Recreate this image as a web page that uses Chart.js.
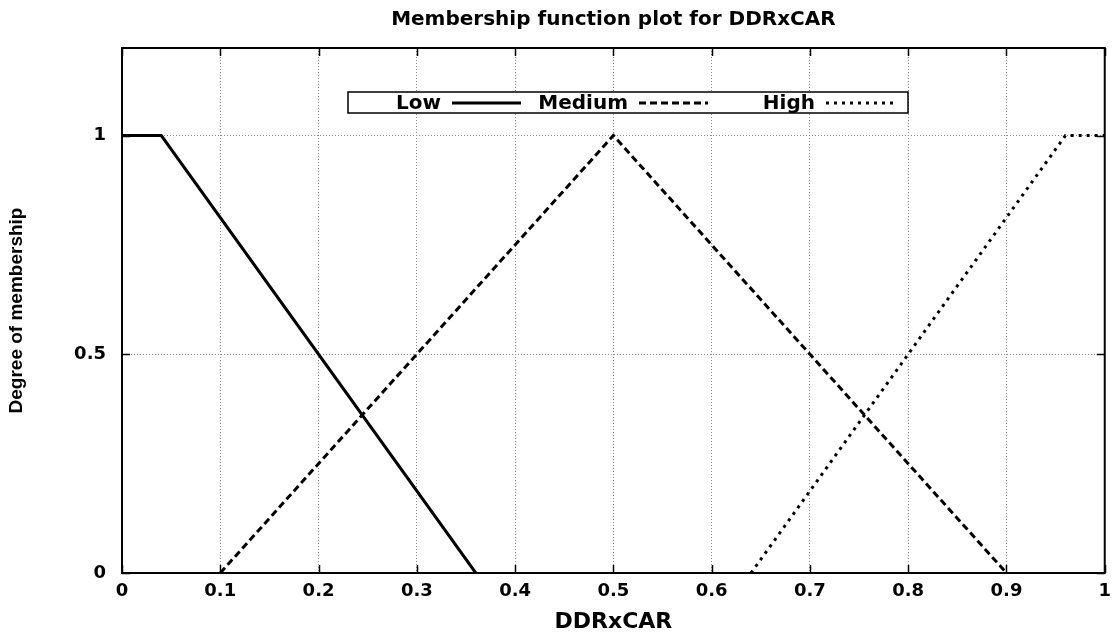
<!DOCTYPE html>
<html><head><meta charset="utf-8">
<script src="https://cdn.jsdelivr.net/npm/chart.js@4.4.1/dist/chart.umd.min.js"></script>
<style>html,body{margin:0;padding:0;background:#fff}#wrap{width:1119px;height:634px}</style>
</head><body><div id="wrap"><canvas id="c" width="1119" height="634"></canvas></div>
<script>
// ---- data ----
const seriesNames = ['Low', 'Medium', 'High'];
const lowX = [0, 0.04, 0.36];
const lowY = [1, 1, 0];
const mediumX = [0.1, 0.5, 0.9];
const mediumY = [0, 1, 0];
const highX = [0.64, 0.96, 1];
const highY = [0, 1, 1];
const xTickValues = [0, 0.1, 0.2, 0.3, 0.4, 0.5, 0.6, 0.7, 0.8, 0.9, 1];
const xTickLabels = ['0', '0.1', '0.2', '0.3', '0.4', '0.5', '0.6', '0.7', '0.8', '0.9', '1'];
const yTickValues = [0, 0.5, 1];
const yTickLabels = ['0', '0.5', '1'];
const chartTitle = 'Membership function plot for DDRxCAR';
const xTitle = 'DDRxCAR';
const yTitle = 'Degree of membership';

const toPts = (xs, ys) => xs.map((x, i) => ({x: x, y: ys[i]}));
const BOLD = 'DejaVu Sans';

const centerTitle = {
  id: 'centerTitle',
  afterLayout(chart) {
    const t = chart.titleBlock, a = chart.chartArea;
    if (t && a) { t.left = a.left; t.right = a.right; t.width = a.right - a.left; }
  }
};

const frameTicks = {
  id: 'frameTicks',
  afterDatasetsDraw(chart) {
    const {ctx, chartArea: a, scales: {x, y}} = chart;
    ctx.save();
    ctx.strokeStyle = '#000';
    ctx.setLineDash([]);
    ctx.lineWidth = 1.5;
    const L = 8;
    ctx.beginPath();
    xTickValues.forEach(v => {
      const px = Math.round(x.getPixelForValue(v)) + 0.5;
      ctx.moveTo(px, a.bottom); ctx.lineTo(px, a.bottom - L);
      ctx.moveTo(px, a.top); ctx.lineTo(px, a.top + L);
    });
    yTickValues.forEach(v => {
      const py = Math.round(y.getPixelForValue(v)) + 0.5;
      ctx.moveTo(a.left, py); ctx.lineTo(a.left + L, py);
      ctx.moveTo(a.right, py); ctx.lineTo(a.right - L, py);
    });
    ctx.stroke();
    ctx.lineWidth = 2;
    ctx.strokeRect(a.left, a.top, a.right - a.left, a.bottom - a.top);
    ctx.restore();
  }
};

const boxedLegend = {
  id: 'boxedLegend',
  afterDraw(chart) {
    const {ctx} = chart;
    const bx = 348, by = 92, bw = 560, bh = 21;
    ctx.save();
    ctx.fillStyle = '#fff';
    ctx.fillRect(bx, by, bw, bh);
    ctx.strokeStyle = '#000';
    ctx.lineWidth = 1.5;
    ctx.setLineDash([]);
    ctx.strokeRect(bx, by, bw, bh);
    const lineStarts = [452, 639, 826];
    const sampleLen = 69;
    const cy = by + bh / 2 + 0.5;
    ctx.font = 'bold 20px "' + BOLD + '"';
    ctx.textAlign = 'right';
    ctx.textBaseline = 'middle';
    ctx.fillStyle = '#000';
    chart.data.datasets.forEach((ds, i) => {
      const s = lineStarts[i];
      ctx.fillText(ds.label, s - 11, cy + 1);
      ctx.beginPath();
      ctx.lineWidth = ds.borderWidth;
      ctx.setLineDash(ds.borderDash || []);
      ctx.moveTo(s, cy); ctx.lineTo(s + sampleLen, cy);
      ctx.stroke();
    });
    ctx.restore();
  }
};

const common = {borderColor: '#000', backgroundColor: '#000', borderWidth: 3, pointRadius: 0, fill: false, tension: 0, borderCapStyle: 'butt', borderJoinStyle: 'miter'};

new Chart(document.getElementById('c'), {
  type: 'line',
  data: {
    datasets: [
      Object.assign({label: seriesNames[0], data: toPts(lowX, lowY), borderDash: []}, common),
      Object.assign({label: seriesNames[1], data: toPts(mediumX, mediumY), borderDash: [7, 4]}, common),
      Object.assign({label: seriesNames[2], data: toPts(highX, highY), borderDash: [3, 5]}, common)
    ]
  },
  options: {
    responsive: false,
    animation: false,
    devicePixelRatio: 1,
    layout: {padding: {left: 0, right: 11, top: 0, bottom: 0}},
    plugins: {
      legend: {display: false},
      tooltip: {enabled: false},
      title: {
        display: true, text: chartTitle, color: '#000',
        font: {family: BOLD, weight: 'bold', size: 20, lineHeight: 1.2},
        padding: {top: 8, bottom: 16}
      }
    },
    scales: {
      x: {
        type: 'linear', min: 0, max: 1,
        afterBuildTicks: s => { s.ticks = xTickValues.map(v => ({value: v})); },
        afterFit: s => { s.height = 61; },
        ticks: {
          color: '#000', padding: 8, autoSkip: false, maxRotation: 0,
          font: {family: BOLD, weight: 'bold', size: 18},
          callback: (v, i) => xTickLabels[i]
        },
        grid: {color: '#888', lineWidth: 1, drawTicks: false},
        border: {display: false, dash: [1, 2]},
        title: {
          display: true, text: xTitle, color: '#000',
          font: {family: BOLD, weight: 'bold', size: 22, lineHeight: 1},
          padding: {top: 0, bottom: 1}
        }
      },
      y: {
        type: 'linear', min: 0, max: 1.2,
        afterBuildTicks: s => { s.ticks = yTickValues.map(v => ({value: v})); },
        afterFit: s => { s.width = 122; },
        ticks: {
          color: '#000', padding: 16,
          font: {family: BOLD, weight: 'bold', size: 18},
          callback: (v, i) => yTickLabels[i]
        },
        grid: {color: '#888', lineWidth: 1, drawTicks: false},
        border: {display: false, dash: [1, 2]},
        title: {
          display: true, text: yTitle, color: '#000',
          font: {family: 'Liberation Sans', weight: 'bold', size: 19, lineHeight: 1.2},
          padding: {top: 5, bottom: 0}
        }
      }
    }
  },
  plugins: [centerTitle, frameTicks, boxedLegend]
});
</script>
</body></html>
